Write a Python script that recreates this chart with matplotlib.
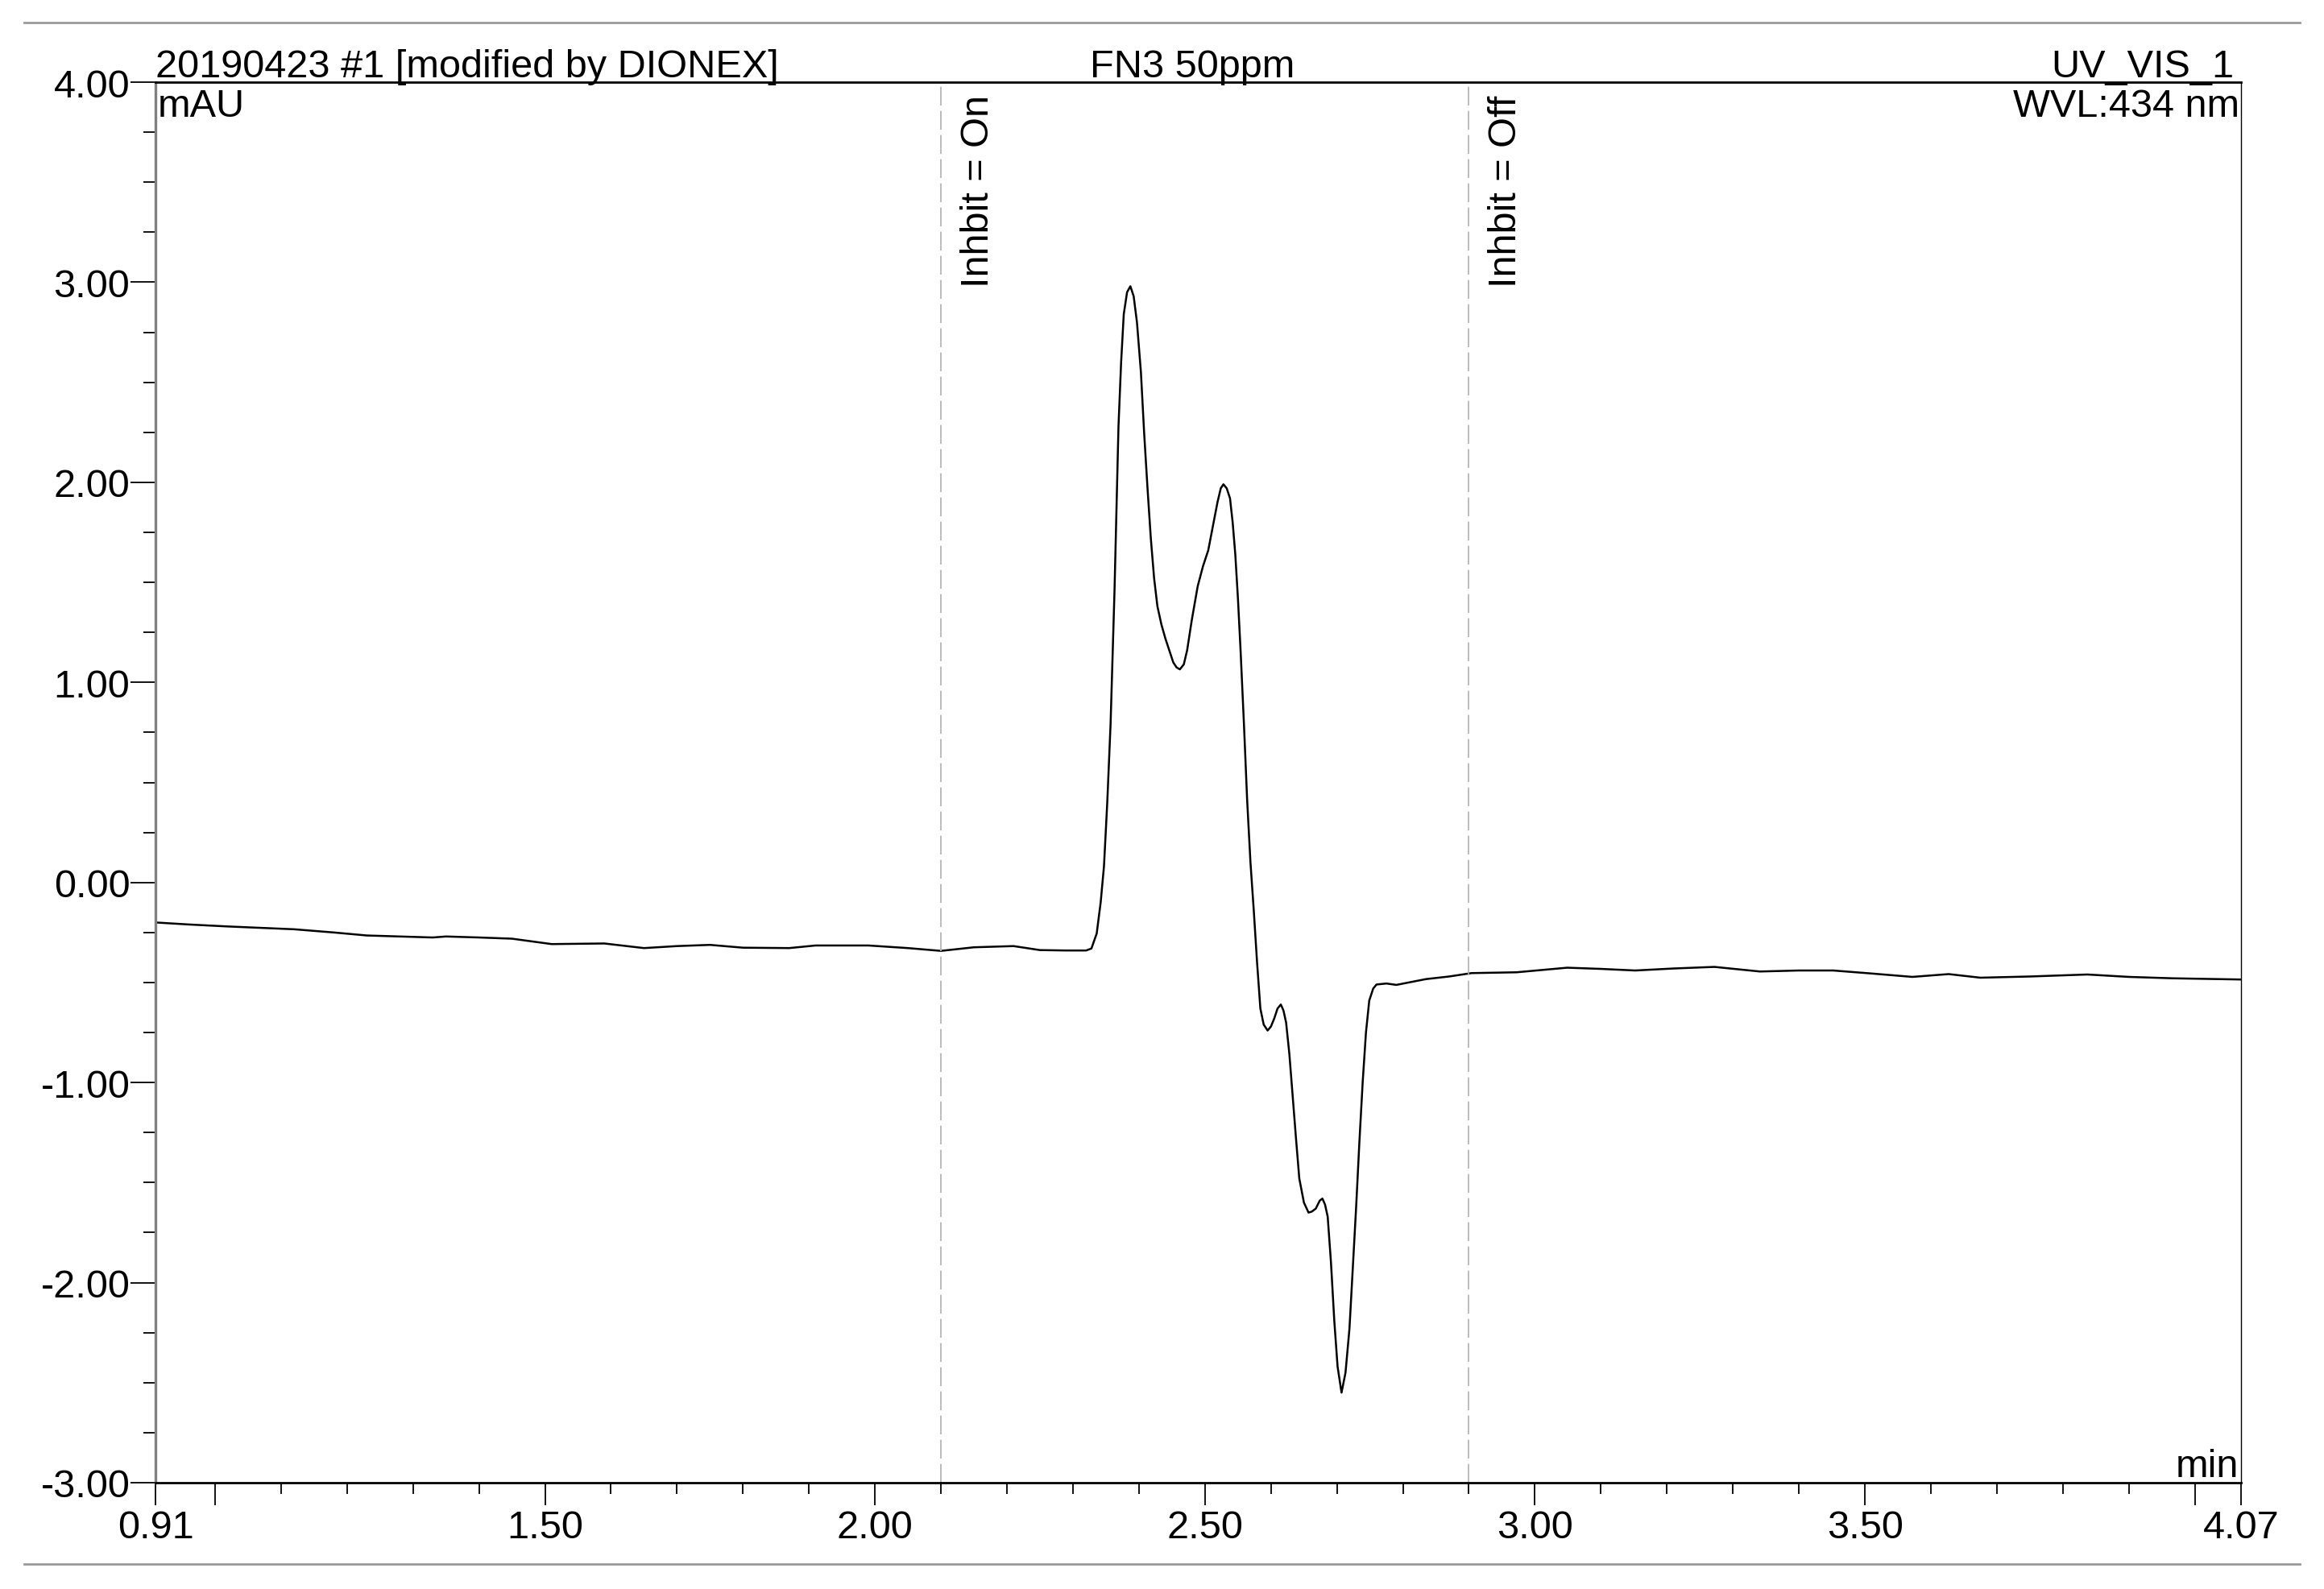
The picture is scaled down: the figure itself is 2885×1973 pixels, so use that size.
import numpy as np
import matplotlib
matplotlib.use("Agg")
import matplotlib.pyplot as plt
from matplotlib.lines import Line2D

plt.rcParams['font.family'] = ['Liberation Sans', 'DejaVu Sans']

# 色谱数据 (min, mAU)
time_min = [0.91, 0.96, 1.02, 1.12, 1.18, 1.23, 1.33, 1.35, 1.40, 1.45, 1.51, 1.59, 1.65,
            1.70, 1.75, 1.80, 1.87, 1.91, 1.99, 2.05, 2.10, 2.15, 2.21, 2.25, 2.29, 2.32,
            2.328, 2.336, 2.342, 2.347, 2.352, 2.357, 2.363, 2.369, 2.373, 2.377, 2.382,
            2.387, 2.392, 2.397, 2.403, 2.408, 2.413, 2.418, 2.423, 2.428, 2.434, 2.440,
            2.446, 2.452, 2.457, 2.462, 2.468, 2.473, 2.480, 2.489, 2.497, 2.505, 2.512,
            2.519, 2.524, 2.528, 2.533, 2.538, 2.542, 2.546, 2.550, 2.554, 2.559, 2.564,
            2.569, 2.574, 2.579, 2.584, 2.589, 2.595, 2.600, 2.605, 2.610, 2.615, 2.619,
            2.623, 2.628, 2.633, 2.638, 2.643, 2.650, 2.657, 2.662, 2.668, 2.674, 2.678,
            2.682, 2.686, 2.691, 2.696, 2.701, 2.707, 2.713, 2.719, 2.724, 2.729, 2.734,
            2.739, 2.744, 2.749, 2.755, 2.760, 2.775, 2.790, 2.835, 2.87, 2.904, 2.972,
            3.049, 3.10, 3.152, 3.21, 3.272, 3.341, 3.40, 3.452, 3.51, 3.572, 3.60, 3.627,
            3.675, 3.75, 3.837, 3.90, 3.966, 4.07]
signal_mau = [-0.20, -0.21, -0.22, -0.234, -0.25, -0.265, -0.275, -0.27, -0.275, -0.281,
              -0.308, -0.305, -0.328, -0.318, -0.312, -0.326, -0.328, -0.315, -0.315,
              -0.328, -0.342, -0.324, -0.318, -0.338, -0.340, -0.34,
              -0.33, -0.255, -0.10, 0.08, 0.40, 0.79, 1.46, 2.28, 2.60, 2.84, 2.95,
              2.98, 2.93, 2.80, 2.55, 2.24, 1.97, 1.72, 1.52, 1.38, 1.29, 1.22,
              1.16, 1.10, 1.075, 1.065, 1.09, 1.16, 1.31, 1.48, 1.58, 1.66, 1.78,
              1.90, 1.97, 1.99, 1.97, 1.92, 1.80, 1.64, 1.42, 1.16, 0.80, 0.41,
              0.10, -0.14, -0.40, -0.63, -0.71, -0.74, -0.72, -0.68, -0.63, -0.61, -0.64,
              -0.70, -0.86, -1.07, -1.28, -1.48, -1.60, -1.65, -1.645, -1.63, -1.59, -1.58,
              -1.61, -1.67, -1.90, -2.19, -2.42, -2.55, -2.45, -2.23, -1.93, -1.63, -1.30,
              -1.00, -0.75, -0.59, -0.53, -0.51, -0.505, -0.512, -0.483, -0.47, -0.453, -0.449,
              -0.426, -0.432, -0.44, -0.43, -0.422, -0.445, -0.44, -0.44, -0.455, -0.472, -0.465, -0.458,
              -0.476, -0.47, -0.46, -0.472, -0.479, -0.485]

# 事件标记
event_times = [2.10, 2.90]
event_labels = ["Inhbit = On", "Inhbit = Off"]

# 坐标轴刻度
x_major = [0.91, 1.0, 1.5, 2.0, 2.5, 3.0, 3.5, 4.0, 4.07]
x_major_labels = ["0.91", "", "1.50", "2.00", "2.50", "3.00", "3.50", "", "4.07"]
y_major = [-3, -2, -1, 0, 1, 2, 3, 4]

FS = 35

fig = plt.figure(figsize=(28.85, 19.74), dpi=100)
ax = fig.add_axes([0.06697, 0.06687, 0.89733, 0.88095])

ax.plot(time_min, signal_mau, color="black", linewidth=1.8)

for t in event_times:
    ax.axvline(t, color="#b0b0b0", linewidth=1.2, linestyle=(0, (14, 4)))
for t, lab in zip(event_times, event_labels):
    ax.annotate(lab, xy=(t, 1), xycoords=("data", "axes fraction"),
                xytext=(17, -11), textcoords="offset points",
                rotation=90, ha="left", va="top", fontsize=FS)

ax.set_xlim(0.91, 4.07)
ax.set_ylim(-3, 4)

ax.set_xticks(x_major)
ax.set_xticklabels(x_major_labels)
minor_x = [round(v, 2) for v in np.arange(1.1, 4.0, 0.1) if abs(v * 2 - round(v * 2)) > 0.01]
ax.set_xticks(minor_x, minor=True)
ax.set_yticks(y_major)
ax.set_yticklabels(["%.2f" % v for v in y_major])
ax.set_yticks(np.arange(-3, 4.01, 0.25), minor=True)

ax.tick_params(axis="both", which="major", direction="out", labelsize=FS, width=1.3, color="black")
ax.tick_params(axis="x", which="major", length=20, pad=4)
ax.tick_params(axis="x", which="minor", length=10, width=1.3)
ax.tick_params(axis="y", which="major", length=22, pad=1)
ax.tick_params(axis="y", which="minor", length=11, width=1.3)

ax.spines["left"].set_color("#808080")
ax.spines["left"].set_linewidth(2.4)
ax.spines["bottom"].set_linewidth(2.0)
ax.spines["top"].set_linewidth(2.0)
ax.spines["right"].set_linewidth(1.0)

# 表头
ax.annotate("20190423 #1 [modified by DIONEX]", xy=(0, 1), xycoords="axes fraction",
            xytext=(0, 5), textcoords="offset points", ha="left", va="baseline", fontsize=FS)
ax.annotate("FN3 50ppm", xy=(0.497, 1), xycoords="axes fraction",
            xytext=(0, 5), textcoords="offset points", ha="center", va="baseline", fontsize=FS)
ax.annotate("UV_VIS_1", xy=(1, 1), xycoords="axes fraction",
            xytext=(-6, 5), textcoords="offset points", ha="right", va="baseline", fontsize=FS)
ax.annotate("mAU", xy=(0, 1), xycoords="axes fraction",
            xytext=(2, -5), textcoords="offset points", ha="left", va="top", fontsize=FS)
ax.annotate("WVL:434 nm", xy=(1, 1), xycoords="axes fraction",
            xytext=(-1, -5), textcoords="offset points", ha="right", va="top", fontsize=FS)
ax.annotate("min", xy=(1, 0), xycoords="axes fraction",
            xytext=(-2, 6), textcoords="offset points", ha="right", va="baseline", fontsize=FS)

# 上下灰色分隔线
fig.add_artist(Line2D([0.0104, 0.9896], [0.9853, 0.9853], color="#999999", linewidth=2.0))
fig.add_artist(Line2D([0.0104, 0.9896], [0.0157, 0.0157], color="#999999", linewidth=2.0))

fig.savefig("out.png", dpi=100)
